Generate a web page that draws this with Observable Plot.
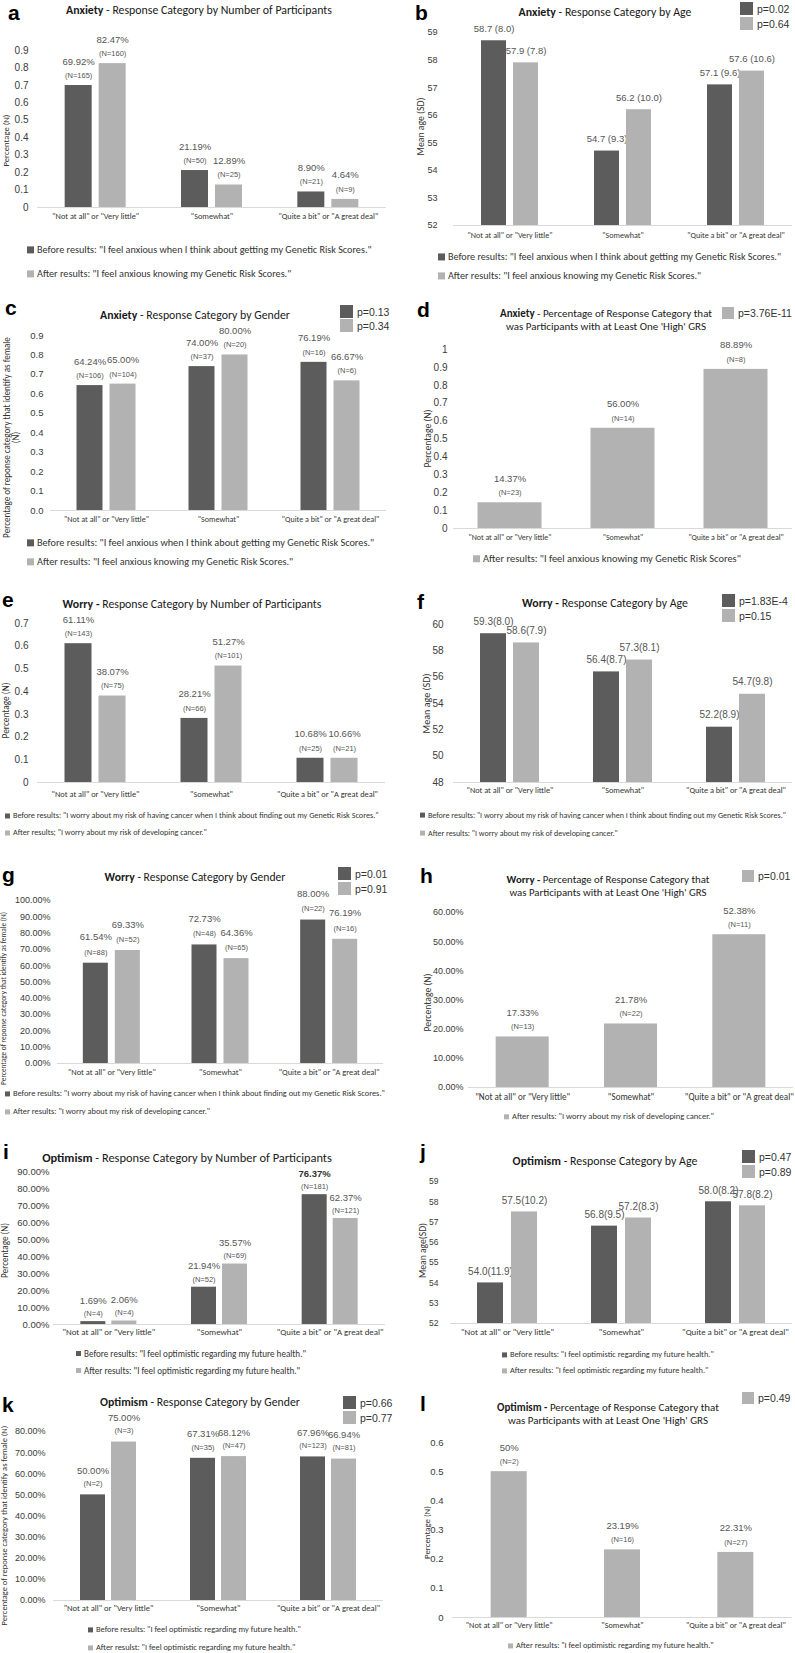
<!DOCTYPE html>
<html><head><meta charset="utf-8">
<script src="https://cdn.jsdelivr.net/npm/d3@7"></script>
<script src="https://cdn.jsdelivr.net/npm/@observablehq/plot@0.6"></script>
<style>
body{margin:0;background:#fff;}
#page{position:relative;width:795px;height:1653px;overflow:hidden;background:#fff;}
.abs{position:absolute;white-space:nowrap;}
.letter{font-family:"Liberation Sans",Arial,sans-serif;font-weight:bold;color:#000;line-height:1;}
.title{font-family:Carlito,Lato,"Open Sans",sans-serif;color:#1a1a1a;transform:translate(-50%,-50%);text-align:center;line-height:1.18;}
.leg{font-family:Carlito,Lato,"Open Sans",sans-serif;color:#333;transform:translateY(-50%);display:flex;align-items:center;line-height:1.1;}
.leg span.sq{display:inline-block;margin-right:3px;}
.pleg{font-family:"Liberation Sans",Arial,sans-serif;color:#333;display:flex;align-items:center;}
.pleg span.sq{display:inline-block;margin-right:4px;}
</style></head>
<body><div id="page"></div>
<script>
// ---------- DATA ----------
const cats = ['"Not at all" or "Very little"', '"Somewhat"', '"Quite a bit" or "A great deal"'];

// a: Anxiety by number of participants
const anxNumBefore = [0.6992, 0.2119, 0.0890];
const anxNumBeforeN = [165, 50, 21];
const anxNumAfter = [0.8247, 0.1289, 0.0464];
const anxNumAfterN = [160, 25, 9];
const ticksA = [0, 0.1, 0.2, 0.3, 0.4, 0.5, 0.6, 0.7, 0.8, 0.9];

// b: Anxiety by age
const anxAgeBefore = [58.7, 54.7, 57.1];
const anxAgeBeforeSD = [8.0, 9.3, 9.6];
const anxAgeAfter = [57.9, 56.2, 57.6];
const anxAgeAfterSD = [7.8, 10.0, 10.6];
const anxAgeP = ["p=0.02", "p=0.64"];
const ticksB = [52, 53, 54, 55, 56, 57, 58, 59];

// c: Anxiety by gender
const anxGenBefore = [0.6424, 0.7400, 0.7619];
const anxGenBeforeN = [106, 37, 16];
const anxGenAfter = [0.6500, 0.8000, 0.6667];
const anxGenAfterN = [104, 20, 6];
const anxGenP = ["p=0.13", "p=0.34"];
const ticksC = [0, 0.1, 0.2, 0.3, 0.4, 0.5, 0.6, 0.7, 0.8, 0.9];

// d: Anxiety high GRS
const anxGrs = [0.1437, 0.5600, 0.8889];
const anxGrsN = [23, 14, 8];
const anxGrsP = ["p=3.76E-11"];
const ticksD = [0, 0.1, 0.2, 0.3, 0.4, 0.5, 0.6, 0.7, 0.8, 0.9, 1];

// e: Worry by number of participants
const worNumBefore = [0.6111, 0.2821, 0.1068];
const worNumBeforeN = [143, 66, 25];
const worNumAfter = [0.3807, 0.5127, 0.1066];
const worNumAfterN = [75, 101, 21];
const ticksE = [0, 0.1, 0.2, 0.3, 0.4, 0.5, 0.6, 0.7];

// f: Worry by age
const worAgeBefore = [59.3, 56.4, 52.2];
const worAgeBeforeSD = [8.0, 8.7, 8.9];
const worAgeAfter = [58.6, 57.3, 54.7];
const worAgeAfterSD = [7.9, 8.1, 9.8];
const worAgeP = ["p=1.83E-4", "p=0.15"];
const ticksF = [48, 50, 52, 54, 56, 58, 60];

// g: Worry by gender
const worGenBefore = [0.6154, 0.7273, 0.8800];
const worGenBeforeN = [88, 48, 22];
const worGenAfter = [0.6933, 0.6436, 0.7619];
const worGenAfterN = [52, 65, 16];
const worGenP = ["p=0.01", "p=0.91"];
const ticksG = [0, 0.1, 0.2, 0.3, 0.4, 0.5, 0.6, 0.7, 0.8, 0.9, 1];

// h: Worry high GRS
const worGrs = [0.1733, 0.2178, 0.5238];
const worGrsN = [13, 22, 11];
const worGrsP = ["p=0.01"];
const ticksH = [0, 0.1, 0.2, 0.3, 0.4, 0.5, 0.6];

// i: Optimism by number of participants
const optNumBefore = [0.0169, 0.2194, 0.7637];
const optNumBeforeN = [4, 52, 181];
const optNumAfter = [0.0206, 0.3557, 0.6237];
const optNumAfterN = [4, 69, 121];
const ticksI = [0, 0.1, 0.2, 0.3, 0.4, 0.5, 0.6, 0.7, 0.8, 0.9];

// j: Optimism by age
const optAgeBefore = [54.0, 56.8, 58.0];
const optAgeBeforeSD = [11.9, 9.5, 8.2];
const optAgeAfter = [57.5, 57.2, 57.8];
const optAgeAfterSD = [10.2, 8.3, 8.2];
const optAgeP = ["p=0.47", "p=0.89"];
const ticksJ = [52, 53, 54, 55, 56, 57, 58, 59];

// k: Optimism by gender
const optGenBefore = [0.5000, 0.6731, 0.6796];
const optGenBeforeN = [2, 35, 123];
const optGenAfter = [0.7500, 0.6812, 0.6694];
const optGenAfterN = [3, 47, 81];
const optGenP = ["p=0.66", "p=0.77"];
const ticksK = [0, 0.1, 0.2, 0.3, 0.4, 0.5, 0.6, 0.7, 0.8];

// l: Optimism high GRS
const optGrs = [0.50, 0.2319, 0.2231];
const optGrsN = [2, 16, 27];
const optGrsLabels = ["50%", "23.19%", "22.31%"];
const optGrsP = ["p=0.49"];
const ticksL = [0, 0.1, 0.2, 0.3, 0.4, 0.5, 0.6];

// legend texts
const legAnxBefore = 'Before results: "I feel anxious when I think about getting my Genetic Risk Scores."';
const legAnxAfter = 'After results: "I feel anxious knowing my Genetic Risk Scores."';
const legAnxAfterD = 'After results: "I feel anxious knowing my Genetic Risk Scores"';
const legWorBefore = 'Before results: "I worry about my risk of having cancer when I think about finding out my Genetic Risk Scores."';
const legWorAfterE = 'After results; "I worry about my risk of developing cancer."';
const legWorAfter = 'After results: "I worry about my risk of developing cancer."';
const legOptBefore = 'Before results: "I feel optimistic regarding my future health."';
const legOptAfter = 'After results: "I feel optimistic regarding my future health."';
const legOptAfterK = 'After resulst: "I feel optimistic regarding my future health."';

// ---------- STYLE ----------
const DARK = "#5c5c5c", LIGHT = "#b2b2b2";
const SANS = "'Liberation Sans', Arial, sans-serif";
const CAL = "Carlito, Lato, 'Open Sans', sans-serif";
const VALC = "#555";
const pct2 = d3.format(".2%");
const fmtPlain = v => String(v);
const fmt1 = v => v.toFixed(1);
const page = document.getElementById("page");
const ctx = document.createElement("canvas").getContext("2d");

function textW(text, family, weight) {
  ctx.font = `${weight || "normal"} 100px ${family}`;
  return ctx.measureText(text).width;
}
// font size (px) that gives the text the target width
function fit(parts, family, width) {
  const w = parts.reduce((s, [t, wt]) => s + textW(t, family, wt), 0);
  return 100 * width / w;
}

function addDiv(html, css, cls) {
  const d = document.createElement("div");
  d.className = "abs " + (cls || "");
  d.innerHTML = html;
  Object.assign(d.style, css);
  page.appendChild(d);
  return d;
}
function esc(s) { return s.replace(/&/g, "&amp;").replace(/</g, "&lt;"); }

function panel(c) {
  const W = c.width, H = c.bottom - c.top;
  const step = (c.frameR - c.frameL) / 3;
  const half = step / 2;
  const y0 = c.yDomain[0];
  const two = c.series.length === 2;
  const pctDy = c.pctDy ?? 24, nDy = c.nDy ?? 10;
  const valFs = c.valFs ?? 9.5, nFs = c.nFs ?? 7.5;
  const marks = [Plot.ruleY([y0], {stroke: "#d9d9d9", strokeWidth: 1})];
  c.series.forEach((s, k) => {
    const data = s.values.map((v, i) => ({cat: cats[i], v, i,
      n: s.n ? s.n[i] : null, sd: s.sd ? s.sd[i] : null, lab: s.labels ? s.labels[i] : null}));
    let insetLeft, insetRight, dx;
    if (!two) { insetLeft = insetRight = half - c.barW / 2; dx = 0; }
    else if (k === 0) { insetLeft = half - c.gap / 2 - c.barW; insetRight = half + c.gap / 2; dx = -(c.gap / 2 + c.barW / 2); }
    else { insetLeft = half + c.gap / 2; insetRight = half - c.gap / 2 - c.barW; dx = c.gap / 2 + c.barW / 2; }
    marks.push(Plot.barY(data, {x: "cat", y1: () => y0, y2: "v", fill: s.color, insetLeft, insetRight}));
    if (c.mode === "pct") {
      const isBold = d => c.bold && c.bold[0] === k && c.bold[1] === d.i;
      const main = d => d.lab ?? pct2(d.v);
      marks.push(Plot.text(data.filter(d => !isBold(d)), {x: "cat", y: "v", text: main, dx, dy: -pctDy, fontSize: valFs, fill: VALC, fontFamily: SANS}));
      marks.push(Plot.text(data.filter(d => isBold(d)), {x: "cat", y: "v", text: main, dx, dy: -pctDy, fontSize: valFs, fill: "#333", fontWeight: "bold", fontFamily: SANS}));
      marks.push(Plot.text(data, {x: "cat", y: "v", text: d => `(N=${d.n})`, dx, dy: -nDy, fontSize: nFs, fill: VALC, fontFamily: SANS}));
    } else {
      marks.push(Plot.text(data, {x: "cat", y: "v", text: d => `${d.v.toFixed(1)}${c.sep}(${d.sd.toFixed(1)})`, dx, dy: -(c.ageDy ?? 12), fontSize: valFs, fill: VALC, fontFamily: SANS}));
    }
  });
  const catFs = fit([[cats[0]]], CAL, c.catW);
  const yTitleFs = fit([[c.yTitle.split("\n")[0]]], CAL, c.yTitleW);
  marks.push(Plot.axisY({ticks: c.ticks, tickFormat: c.fmt, tickSize: 0, tickPadding: c.frameL - c.tickRight, fontSize: c.tickFs, fill: "#3a3a3a", fontFamily: SANS, label: null}));
  marks.push(Plot.axisX({tickSize: 0, tickPadding: c.catY - c.yBot - catFs * 0.6, fontSize: catFs, fill: "#333", fontFamily: CAL, label: null}));
  marks.push(Plot.text([c.yTitle], {text: d => d, frameAnchor: "left", rotate: -90, textAnchor: "middle", lineAnchor: "middle",
    dx: c.yTitleX - c.frameL, dy: c.yTitleY - (c.yTop + c.yBot) / 2, fontSize: yTitleFs, fill: "#333", fontFamily: CAL}));
  const svg = Plot.plot({
    width: W, height: H,
    marginLeft: c.frameL - c.left, marginRight: c.left + W - c.frameR,
    marginTop: c.yTop - c.top, marginBottom: c.bottom - c.yBot,
    x: {domain: cats, padding: 0, round: false},
    y: {domain: c.yDomain},
    style: {background: "transparent", fontFamily: SANS, overflow: "visible", maxWidth: "none"},
    marks
  });
  svg.style.position = "absolute";
  svg.style.left = c.left + "px";
  svg.style.top = c.top + "px";
  page.appendChild(svg);

  addDiv(c.letter, {left: c.letterX + "px", top: c.letterY + "px", fontSize: (c.letterFs ?? 21) + "px"}, "letter");
  const titleFs = fit([[c.tBold, "bold"], [c.tRest, "normal"]], CAL, c.titleW);
  addDiv(`<b>${esc(c.tBold)}</b>${esc(c.tRest)}` + (c.tLine2 ? `<br>${esc(c.tLine2)}` : ""),
    {left: c.titleX + "px", top: c.titleY + "px", fontSize: titleFs.toFixed(2) + "px"}, "title");
  const legFs = fit([[c.series[0].legend]], CAL, c.legW);
  c.series.forEach((s, k) => {
    if (s.p) {
      addDiv(`<span class="sq" style="background:${s.color};width:${c.pSq}px;height:${c.pSq}px"></span>${esc(s.p)}`,
        {left: c.pX + "px", top: c.pY[k] + "px", fontSize: (c.pFs ?? 10.5) + "px", height: c.pSq + "px"}, "pleg");
    }
    addDiv(`<span class="sq" style="background:${s.color};width:${c.legSq}px;height:${c.legSq}px"></span>${esc(s.legend)}`,
      {left: c.legX + "px", top: c.legY[k] + "px", fontSize: legFs.toFixed(2) + "px"}, "leg");
  });
}

// ---------- PANELS ----------
panel({left: 0, width: 395, top: 0, bottom: 228,
  frameL: 37, frameR: 386, yTop: 50, yBot: 207, yDomain: [0, 0.9], ticks: ticksA, fmt: fmtPlain, tickRight: 28, tickFs: 10,
  barW: 27, gap: 7, mode: "pct", catY: 218, catW: 87,
  yTitle: "Percentage (N)", yTitleX: 6, yTitleY: 140, yTitleW: 52,
  letter: "a", letterX: 8, letterY: 2,
  tBold: "Anxiety", tRest: " - Response Category by Number of Participants", titleX: 199, titleY: 11, titleW: 266,
  legY: [250, 274], legX: 27, legW: 335, legSq: 7,
  series: [{values: anxNumBefore, n: anxNumBeforeN, color: DARK, legend: legAnxBefore},
           {values: anxNumAfter, n: anxNumAfterN, color: LIGHT, legend: legAnxAfter}]});

panel({left: 395, width: 400, top: 0, bottom: 246,
  frameL: 453, frameR: 792, yTop: 32, yBot: 225, yDomain: [52, 59], ticks: ticksB, fmt: fmtPlain, tickRight: 437, tickFs: 9,
  barW: 25, gap: 7, mode: "age", sep: " ", valFs: 9.5, catY: 237, catW: 85,
  yTitle: "Mean age (SD)", yTitleX: 420, yTitleY: 126, yTitleW: 58,
  letter: "b", letterX: 415, letterY: 2,
  tBold: "Anxiety", tRest: " - Response Category by Age", titleX: 605, titleY: 13, titleW: 173,
  pX: 740, pY: [2, 17], pSq: 13, legY: [257, 276], legX: 438, legW: 333, legSq: 7,
  series: [{values: anxAgeBefore, sd: anxAgeBeforeSD, color: DARK, legend: legAnxBefore, p: anxAgeP[0]},
           {values: anxAgeAfter, sd: anxAgeAfterSD, color: LIGHT, legend: legAnxAfter, p: anxAgeP[1]}]});

panel({left: 0, width: 395, top: 290, bottom: 532,
  frameL: 50, frameR: 386, yTop: 335, yBot: 510, yDomain: [0, 0.9], ticks: ticksC, fmt: fmt1, tickRight: 43, tickFs: 9.5,
  barW: 26, gap: 7, mode: "pct", catY: 521, catW: 85,
  yTitle: "Percentage of reponse category that identify as female\n(N)", yTitleX: 11, yTitleY: 437, yTitleW: 201,
  letter: "c", letterX: 5, letterY: 297,
  tBold: "Anxiety", tRest: " - Response Category by Gender", titleX: 195, titleY: 316, titleW: 190,
  pX: 340, pY: [305, 319], pSq: 13, legY: [543, 562], legX: 27, legW: 337, legSq: 7,
  series: [{values: anxGenBefore, n: anxGenBeforeN, color: DARK, legend: legAnxBefore, p: anxGenP[0]},
           {values: anxGenAfter, n: anxGenAfterN, color: LIGHT, legend: legAnxAfter, p: anxGenP[1]}]});

panel({left: 395, width: 400, top: 290, bottom: 550,
  frameL: 453, frameR: 792, yTop: 349, yBot: 528, yDomain: [0, 1], ticks: ticksD, fmt: fmtPlain, tickRight: 447, tickFs: 10,
  barW: 64, mode: "pct", catY: 539, catW: 83,
  yTitle: "Percentage (N)", yTitleX: 427, yTitleY: 438, yTitleW: 58,
  letter: "d", letterX: 417, letterY: 299,
  tBold: "Anxiety", tRest: " - Percentage of Response Category that", tLine2: "was Participants with at Least One 'High' GRS", titleX: 606, titleY: 321, titleW: 212,
  pX: 722, pY: [307], pSq: 12, legY: [559], legX: 473, legW: 258, legSq: 7,
  series: [{values: anxGrs, n: anxGrsN, color: LIGHT, legend: legAnxAfterD, p: anxGrsP[0]}]});

panel({left: 0, width: 395, top: 585, bottom: 805,
  frameL: 37, frameR: 385, yTop: 623, yBot: 782, yDomain: [0, 0.7], ticks: ticksE, fmt: fmtPlain, tickRight: 28, tickFs: 10,
  barW: 27, gap: 7, mode: "pct", catY: 796, catW: 88,
  yTitle: "Percentage (N)", yTitleX: 5, yTitleY: 710, yTitleW: 56,
  letter: "e", letterX: 2, letterY: 589,
  tBold: "Worry -", tRest: " Response Category by Number of Participants", titleX: 192, titleY: 605, titleW: 259,
  legY: [816, 833], legX: 5, legW: 366, legSq: 5,
  series: [{values: worNumBefore, n: worNumBeforeN, color: DARK, legend: legWorBefore},
           {values: worNumAfter, n: worNumAfterN, color: LIGHT, legend: legWorAfterE}]});

panel({left: 395, width: 400, top: 585, bottom: 803,
  frameL: 453, frameR: 792, yTop: 624, yBot: 782, yDomain: [48, 60], ticks: ticksF, fmt: fmtPlain, tickRight: 443, tickFs: 10,
  barW: 26, gap: 7, mode: "age", sep: "", valFs: 10, catY: 792, catW: 87,
  yTitle: "Mean age (SD)", yTitleX: 426, yTitleY: 703, yTitleW: 60,
  letter: "f", letterX: 417, letterY: 591,
  tBold: "Worry -", tRest: " Response Category by Age", titleX: 605, titleY: 604, titleW: 166,
  pX: 722, pY: [594, 609], pSq: 13, legY: [815, 833], legX: 420, legW: 358, legSq: 5,
  series: [{values: worAgeBefore, sd: worAgeBeforeSD, color: DARK, legend: legWorBefore, p: worAgeP[0]},
           {values: worAgeAfter, sd: worAgeAfterSD, color: LIGHT, legend: legWorAfter, p: worAgeP[1]}]});

panel({left: 0, width: 395, top: 855, bottom: 1085,
  frameL: 57, frameR: 383, yTop: 900, yBot: 1063, yDomain: [0, 1], ticks: ticksG, fmt: pct2, tickRight: 50, tickFs: 9,
  barW: 25, gap: 7, mode: "pct", pctDy: 26, nDy: 11, catY: 1074, catW: 88,
  yTitle: "Percentage of reponse category that identify as female (N)", yTitleX: 3.5, yTitleY: 998, yTitleW: 173,
  letter: "g", letterX: 2, letterY: 864,
  tBold: "Worry", tRest: " - Response Category by Gender", titleX: 195, titleY: 878, titleW: 181,
  pX: 338, pY: [867, 882], pSq: 13, legY: [1094, 1112], legX: 5, legW: 372, legSq: 5,
  series: [{values: worGenBefore, n: worGenBeforeN, color: DARK, legend: legWorBefore, p: worGenP[0]},
           {values: worGenAfter, n: worGenAfterN, color: LIGHT, legend: legWorAfter, p: worGenP[1]}]});

panel({left: 395, width: 400, top: 855, bottom: 1108,
  frameL: 468, frameR: 793, yTop: 912, yBot: 1087, yDomain: [0, 0.6], ticks: ticksH, fmt: pct2, tickRight: 463, tickFs: 9,
  barW: 53, mode: "pct", catY: 1098, catW: 95,
  yTitle: "Percentage (N)", yTitleX: 427, yTitleY: 1002, yTitleW: 58,
  letter: "h", letterX: 420, letterY: 865,
  tBold: "Worry -", tRest: " Percentage of Response Category that", tLine2: "was Participants with at Least One 'High' GRS", titleX: 608, titleY: 887, titleW: 203,
  pX: 742, pY: [870], pSq: 12, legY: [1117], legX: 504, legW: 202, legSq: 5,
  series: [{values: worGrs, n: worGrsN, color: LIGHT, legend: legWorAfter, p: worGrsP[0]}]});

panel({left: 0, width: 395, top: 1140, bottom: 1345,
  frameL: 53, frameR: 385, yTop: 1171, yBot: 1324, yDomain: [0, 0.9], ticks: ticksI, fmt: pct2, tickRight: 49, tickFs: 9.5,
  barW: 25, gap: 6, mode: "pct", pctDy: 21, nDy: 8, catY: 1334, catW: 93, bold: [0, 2],
  yTitle: "Percentage (N)", yTitleX: 5, yTitleY: 1250, yTitleW: 55,
  letter: "i", letterX: 3, letterY: 1141,
  tBold: "Optimism", tRest: " - Response Category by Number of Participants", titleX: 187, titleY: 1158, titleW: 290,
  legY: [1354, 1371], legX: 76, legW: 222, legSq: 5,
  series: [{values: optNumBefore, n: optNumBeforeN, color: DARK, legend: legOptBefore},
           {values: optNumAfter, n: optNumAfterN, color: LIGHT, legend: legOptAfter}]});

panel({left: 395, width: 400, top: 1140, bottom: 1344,
  frameL: 450, frameR: 792, yTop: 1181, yBot: 1323, yDomain: [52, 59], ticks: ticksJ, fmt: fmtPlain, tickRight: 438, tickFs: 8.5,
  barW: 26, gap: 8, mode: "age", sep: "", valFs: 10, ageDy: 11, catY: 1334, catW: 93,
  yTitle: "Mean age(SD)", yTitleX: 422, yTitleY: 1250, yTitleW: 55,
  letter: "j", letterX: 420, letterY: 1141,
  tBold: "Optimism", tRest: " - Response Category by Age", titleX: 605, titleY: 1161, titleW: 185,
  pX: 742, pY: [1150, 1165], pSq: 13, legY: [1355, 1371], legX: 502, legW: 204, legSq: 5,
  series: [{values: optAgeBefore, sd: optAgeBeforeSD, color: DARK, legend: legOptBefore, p: optAgeP[0]},
           {values: optAgeAfter, sd: optAgeAfterSD, color: LIGHT, legend: legOptAfter, p: optAgeP[1]}]});

panel({left: 0, width: 395, top: 1390, bottom: 1620,
  frameL: 53, frameR: 383, yTop: 1431, yBot: 1600, yDomain: [0, 0.8], ticks: ticksK, fmt: pct2, tickRight: 45, tickFs: 9,
  barW: 25, gap: 6, mode: "pct", pctDy: 24, nDy: 11, catY: 1610, catW: 90,
  yTitle: "Percentage of reponse category that identify as female (N)", yTitleX: 3.5, yTitleY: 1525, yTitleW: 200,
  letter: "k", letterX: 2, letterY: 1394,
  tBold: "Optimism", tRest: " - Response Category by Gender", titleX: 200, titleY: 1403, titleW: 200,
  pX: 343, pY: [1396, 1411], pSq: 13, legY: [1630, 1648], legX: 88, legW: 205, legSq: 5,
  series: [{values: optGenBefore, n: optGenBeforeN, color: DARK, legend: legOptBefore, p: optGenP[0]},
           {values: optGenAfter, n: optGenAfterN, color: LIGHT, legend: legOptAfterK, p: optGenP[1]}]});

panel({left: 395, width: 400, top: 1390, bottom: 1637,
  frameL: 452, frameR: 792, yTop: 1442, yBot: 1617, yDomain: [0, 0.6], ticks: ticksL, fmt: fmtPlain, tickRight: 443, tickFs: 9.5,
  barW: 36, mode: "pct", catY: 1627, catW: 87,
  yTitle: "Percentage (N)", yTitleX: 427, yTitleY: 1532, yTitleW: 53,
  letter: "l", letterX: 420, letterY: 1393,
  tBold: "Optimism -", tRest: " Percentage of Response Category that", tLine2: "was Participants with at Least One 'High' GRS", titleX: 608, titleY: 1415, titleW: 222,
  pX: 742, pY: [1392], pSq: 12, legY: [1646], legX: 508, legW: 198, legSq: 5,
  series: [{values: optGrs, n: optGrsN, labels: optGrsLabels, color: LIGHT, legend: legOptAfter, p: optGrsP[0]}]});
</script>
</body></html>
